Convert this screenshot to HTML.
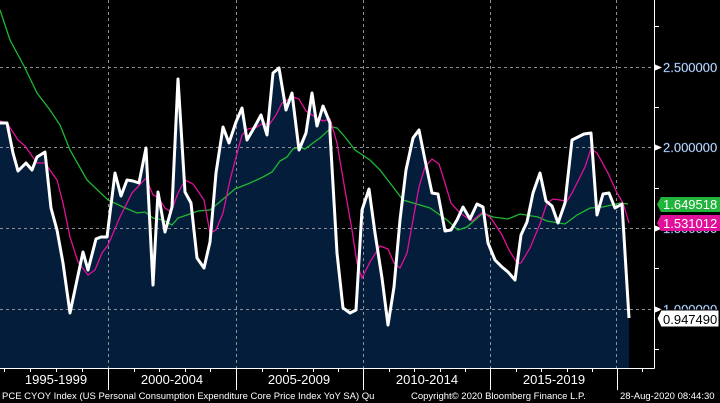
<!DOCTYPE html>
<html><head><meta charset="utf-8"><style>
html,body{margin:0;padding:0;background:#000;}
svg{display:block;font-family:"Liberation Sans",sans-serif;}
</style></head><body>
<svg width="720" height="403" viewBox="0 0 720 403">
<rect width="720" height="403" fill="#000"/>
<!-- fill -->
<polygon fill="#041d3b" points="0,368 0,123 7,123 13,153 18,171 26,163 32,170 37,157 45,152 51,208 57,230 63,263 70,313 77,280 83,252 88,270 96,239 101,237 107,237 115,173 121,196 127,180 133,181 139,183 146,148 153,285 158,192 165,232 172,207 178,79 185,192 191,203 197,258 204,268 210,242 216,173 223,127 229,143 236,122 242,108 247,140 254,128 261,115 267,135 273,73 279,68 286,110 292,93 299,150 306,133 312,93 317,126 323,106 330,123 330,133 337,253 343,308 350,313 356,310 362,210 369,189 375,233 382,278 388,325 394,287 400,220 406,170 413,138 419,130 425,160 432,193 438,194 445,231 451,230 457,220 463,207 470,219 477,204 483,207 488,243 495,260 502,267 508,272 515,280 521,235 527,222 533,193 540,173 546,201 552,206 558,223 565,203 572,140 578,137 584,134 591,133 597,215 603,194 609,193 615,208 622,204 629,318 629,368"/>
<g stroke="#8a8f99" stroke-width="1" stroke-dasharray="3,3" fill="none">
<line x1="0" y1="67.5" x2="654" y2="67.5"/>
<line x1="0" y1="147.5" x2="654" y2="147.5"/>
<line x1="0" y1="228.5" x2="654" y2="228.5"/>
<line x1="0" y1="309.5" x2="654" y2="309.5"/>
<line x1="108.5" y1="0" x2="108.5" y2="368"/>
<line x1="236.5" y1="0" x2="236.5" y2="368"/>
<line x1="363.5" y1="0" x2="363.5" y2="368"/>
<line x1="490.5" y1="0" x2="490.5" y2="368"/>
<line x1="616.5" y1="0" x2="616.5" y2="368"/>
</g>
<polyline fill="none" stroke="#1fb832" stroke-width="1.3" points="0,10 10,40 25,68 37,93 50,110 60,125 70,150 87,180 108,200 123,207 137,213 145,212 153,218 163,220 172,225 178,218 187,215 198,211 210,210 222,200 235,189 250,183 263,177 272,172 280,161 287,157 293,149 300,147 305,149 317,140 320,138 332,127 337,128 345,137 355,150 370,160 380,170 390,183 403,200 420,205 430,208 447,220 458,230 467,227 483,213 493,217 508,219 520,214 538,217 547,221 565,224 577,215 590,208 603,207 620,203 628,204"/>
<polyline fill="none" stroke="#e0109a" stroke-width="1.3" points="0,121 7,123 18,140 25,146 37,163 45,163 57,180 63,203 70,237 78,262 88,275 95,270 102,253 108,245 120,217 132,193 146,178 153,195 158,197 165,208 171,212 178,193 185,180 193,184 204,200 210,233 216,230 223,213 230,180 242,135 248,129 257,127 263,123 269,125 276,115 282,103 293,97 299,99 306,111 315,117 323,121 330,119 337,143 345,190 352,230 357,263 362,278 370,262 380,246 388,249 394,263 400,268 407,253 413,220 419,187 425,167 432,159 439,164 445,183 451,203 460,213 472,221 483,212 491,218 502,235 509,250 517,263 521,263 530,248 540,224 547,203 553,199 567,201 572,193 585,167 591,149 597,153 608,173 617,193 623,203 629,223"/>
<polyline fill="none" stroke="#fff" stroke-width="3" stroke-linejoin="round" points="0,123 7,123 13,153 18,171 26,163 32,170 37,157 45,152 51,208 57,230 63,263 70,313 77,280 83,252 88,270 96,239 101,237 107,237 115,173 121,196 127,180 133,181 139,183 146,148 153,285 158,192 165,232 172,207 178,79 185,192 191,203 197,258 204,268 210,242 216,173 223,127 229,143 236,122 242,108 247,140 254,128 261,115 267,135 273,73 279,68 286,110 292,93 299,150 306,133 312,93 317,126 323,106 330,123 330,133 337,253 343,308 350,313 356,310 362,210 369,189 375,233 382,278 388,325 394,287 400,220 406,170 413,138 419,130 425,160 432,193 438,194 445,231 451,230 457,220 463,207 470,219 477,204 483,207 488,243 495,260 502,267 508,272 515,280 521,235 527,222 533,193 540,173 546,201 552,206 558,223 565,203 572,140 578,137 584,134 591,133 597,215 603,194 609,193 615,208 622,204 629,318"/>
<!-- axes -->
<g stroke="#fff" stroke-width="1">
<line x1="654.5" y1="0" x2="654.5" y2="368.5"/>
<line x1="0" y1="368.5" x2="654.5" y2="368.5"/>
<line x1="654" y1="26.5" x2="659" y2="26.5"/>
<line x1="654" y1="107.5" x2="659" y2="107.5"/>
<line x1="654" y1="188.5" x2="659" y2="188.5"/>
<line x1="654" y1="268.5" x2="659" y2="268.5"/>
<line x1="654" y1="349.5" x2="659" y2="349.5"/>
</g>
<g fill="#fff">
<polygon points="654,64 662,67.5 654,71"/>
<polygon points="654,144 662,147.5 654,151"/>
<polygon points="654,225 662,228.5 654,232"/>
<polygon points="654,306 662,309.5 654,313"/>
</g>
<g fill="#fff" font-size="13" stroke="#3b6fb0" stroke-width="0.4">
<text x="663" y="72">2.500000</text>
<text x="663" y="152">2.000000</text>
<text x="663" y="233">1.500000</text>
<text x="663" y="314">1.000000</text>
</g>
<!-- tags -->
<polygon points="657,204.5 661,197 720,197 720,212 661,212" fill="#22b53c"/>
<text x="663" y="209" fill="#fff" font-size="13">1.649518</text>
<polygon points="657,223 661,215 720,215 720,231 661,231" fill="#e0109a"/>
<text x="663" y="228" fill="#fff" font-size="13">1.531012</text>
<polygon points="657,318.5 661,310 719,310 719,327 661,327" fill="#fff" stroke="#000"/>
<text x="663" y="324" fill="#000" font-size="13">0.947490</text>
<!-- bottom -->
<g stroke="#fff" stroke-width="1">
<line x1="108.5" y1="368" x2="108.5" y2="390"/>
<line x1="236.5" y1="368" x2="236.5" y2="390"/>
<line x1="363.5" y1="368" x2="363.5" y2="390"/>
<line x1="490.5" y1="368" x2="490.5" y2="390"/>
<line x1="617.5" y1="368" x2="617.5" y2="390"/>
<line x1="4.5" y1="368" x2="4.5" y2="372"/><line x1="30.5" y1="368" x2="30.5" y2="372"/><line x1="56.5" y1="368" x2="56.5" y2="372"/><line x1="82.5" y1="368" x2="82.5" y2="372"/>
<line x1="134.5" y1="368" x2="134.5" y2="372"/><line x1="159.5" y1="368" x2="159.5" y2="372"/><line x1="185.5" y1="368" x2="185.5" y2="372"/><line x1="210.5" y1="368" x2="210.5" y2="372"/>
<line x1="262.5" y1="368" x2="262.5" y2="372"/><line x1="287.5" y1="368" x2="287.5" y2="372"/><line x1="313.5" y1="368" x2="313.5" y2="372"/><line x1="338.5" y1="368" x2="338.5" y2="372"/>
<line x1="389.5" y1="368" x2="389.5" y2="372"/><line x1="414.5" y1="368" x2="414.5" y2="372"/><line x1="440.5" y1="368" x2="440.5" y2="372"/><line x1="465.5" y1="368" x2="465.5" y2="372"/>
<line x1="516.5" y1="368" x2="516.5" y2="372"/><line x1="541.5" y1="368" x2="541.5" y2="372"/><line x1="567.5" y1="368" x2="567.5" y2="372"/><line x1="592.5" y1="368" x2="592.5" y2="372"/>
<line x1="642.5" y1="368" x2="642.5" y2="372"/>
</g>
<g fill="#fff" font-size="13" text-anchor="middle">
<text x="56" y="384">1995-1999</text>
<text x="172" y="384">2000-2004</text>
<text x="299" y="384">2005-2009</text>
<text x="427" y="384">2010-2014</text>
<text x="554" y="384">2015-2019</text>
</g>
<g fill="#fff" font-size="9.5">
<text x="2" y="399">PCE CYOY Index (US Personal Consumption Expenditure Core Price Index YoY SA)  Qu</text>
<text x="411" y="399">Copyright© 2020 Bloomberg Finance L.P.</text>
<text x="620" y="399">28-Aug-2020 08:44:30</text>
</g>
</svg>
</body></html>
